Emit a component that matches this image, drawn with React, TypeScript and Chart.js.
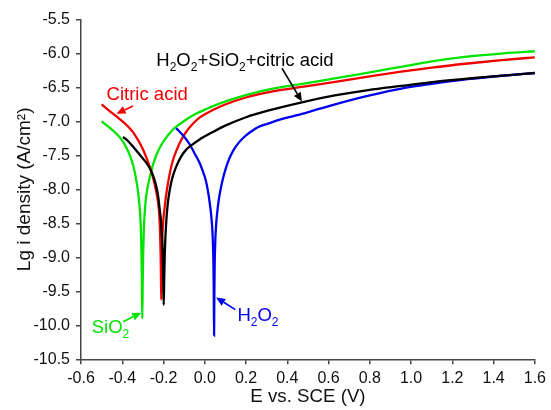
import React, { useEffect, useRef } from 'react';
import { Chart, registerables } from 'chart.js';

Chart.register(...registerables);

const FONT = '"Liberation Sans", Arial, Helvetica, sans-serif';
const GREEN = '#00e400';
const RED = '#f20000';
const BLUE = '#0000f0';
const BLACK = '#000000';

// ---- data (E vs. SCE in V, log current density) ----
const sio2E = [-0.500, -0.463, -0.433, -0.403, -0.383, -0.363, -0.348, -0.336, -0.327, -0.320, -0.314, -0.310, -0.307, -0.305, -0.303, -0.301, -0.299, -0.296, -0.292, -0.287, -0.279, -0.268, -0.253, -0.235, -0.213, -0.187, -0.163, -0.139, -0.093, -0.043, 0.007, 0.07, 0.15, 0.23, 0.33, 0.45, 0.63, 0.80, 0.95, 1.10, 1.27, 1.45, 1.60];
const sio2LogI = [-7.00, -7.09, -7.17, -7.27, -7.37, -7.50, -7.64, -7.80, -7.96, -8.13, -8.33, -8.56, -8.90, -9.30, -9.90, -9.40, -9.00, -8.65, -8.38, -8.18, -8.00, -7.84, -7.66, -7.50, -7.36, -7.24, -7.15, -7.08, -6.98, -6.89, -6.82, -6.74, -6.66, -6.59, -6.52, -6.46, -6.37, -6.28, -6.20, -6.12, -6.05, -6.00, -5.97];

const citricE = [-0.500, -0.461, -0.411, -0.371, -0.348, -0.321, -0.300, -0.281, -0.268, -0.255, -0.244, -0.235, -0.227, -0.221, -0.217, -0.214, -0.2125, -0.211, -0.2095, -0.208, -0.205, -0.201, -0.195, -0.188, -0.179, -0.168, -0.155, -0.136, -0.115, -0.089, -0.059, -0.031, 0.005, 0.049, 0.102, 0.20, 0.33, 0.48, 0.632, 0.80, 0.952, 1.10, 1.274, 1.44, 1.60];
const citricLogI = [-6.75, -6.85, -6.97, -7.08, -7.16, -7.29, -7.41, -7.55, -7.66, -7.78, -7.91, -8.04, -8.18, -8.36, -8.60, -8.95, -9.25, -9.62, -9.25, -8.95, -8.65, -8.45, -8.28, -8.10, -7.92, -7.74, -7.58, -7.42, -7.28, -7.15, -7.04, -6.96, -6.89, -6.82, -6.75, -6.65, -6.56, -6.49, -6.42, -6.34, -6.27, -6.21, -6.15, -6.10, -6.06];

const mixE = [-0.396, -0.369, -0.348, -0.324, -0.299, -0.279, -0.260, -0.246, -0.235, -0.226, -0.219, -0.213, -0.208, -0.204, -0.2015, -0.199, -0.1965, -0.194, -0.190, -0.185, -0.179, -0.171, -0.159, -0.139, -0.117, -0.091, -0.059, -0.027, 0.037, 0.102, 0.20, 0.31, 0.471, 0.63, 0.792, 0.95, 1.113, 1.25, 1.354, 1.48, 1.60];
const mixLogI = [-7.23, -7.30, -7.37, -7.46, -7.55, -7.63, -7.73, -7.84, -7.96, -8.10, -8.28, -8.45, -8.68, -8.95, -9.30, -9.70, -9.30, -8.95, -8.65, -8.40, -8.20, -8.03, -7.85, -7.67, -7.53, -7.42, -7.34, -7.27, -7.16, -7.06, -6.94, -6.84, -6.72, -6.62, -6.54, -6.48, -6.42, -6.38, -6.35, -6.32, -6.29];

const h2o2E = [-0.139, -0.105, -0.075, -0.050, -0.027, -0.010, 0.005, 0.015, 0.023, 0.030, 0.035, 0.039, 0.042, 0.0435, 0.045, 0.0465, 0.048, 0.051, 0.055, 0.061, 0.068, 0.078, 0.090, 0.103, 0.120, 0.140, 0.166, 0.195, 0.225, 0.262, 0.31, 0.36, 0.42, 0.471, 0.55, 0.632, 0.80, 0.952, 1.10, 1.274, 1.44, 1.60];
const h2o2LogI = [-7.10, -7.21, -7.33, -7.47, -7.60, -7.73, -7.87, -8.02, -8.18, -8.35, -8.52, -8.75, -9.10, -9.50, -10.15, -9.50, -9.10, -8.75, -8.52, -8.32, -8.15, -7.98, -7.82, -7.68, -7.54, -7.42, -7.31, -7.22, -7.15, -7.08, -7.03, -6.98, -6.93, -6.89, -6.82, -6.75, -6.62, -6.52, -6.45, -6.38, -6.33, -6.29];

const xTitle = 'E vs. SCE (V)';
const yTitle = 'Lg i density (A/cm²)';

// ---- annotations (label anchor and arrow in data units; "_" marks a subscript char) ----
type Ann = { text: string; x: number; y: number; color: string; from: [number, number]; to: [number, number] };
const annotations: Ann[] = [
  { text: 'H_2O_2+SiO_2+citric acid', x: -0.235, y: -6.18, color: BLACK, from: [0.374, -6.22], to: [0.471, -6.71] },
  { text: 'Citric acid', x: -0.476, y: -6.687, color: RED, from: [-0.348, -6.775], to: [-0.428, -6.89] },
  { text: 'SiO_2', x: -0.548, y: -10.12, color: GREEN, from: [-0.396, -9.947], to: [-0.308, -9.815] },
  { text: 'H_2O_2', x: 0.158, y: -9.937, color: BLUE, from: [0.148, -9.77], to: [0.055, -9.59] },
];

const toPts = (xs: number[], ys: number[]) => xs.map((x, i) => ({ x, y: ys[i] }));

const annPlugin = {
  id: 'annPlugin',
  afterDatasetsDraw(chart: any) {
    const { ctx, scales } = chart;
    const xs = scales.x;
    const ys = scales.y;
    const main = 18.5;
    const sub = 12;
    ctx.save();
    for (const a of annotations) {
      ctx.fillStyle = a.color;
      ctx.strokeStyle = a.color;
      let px = xs.getPixelForValue(a.x);
      const py = ys.getPixelForValue(a.y);
      ctx.textBaseline = 'alphabetic';
      ctx.textAlign = 'left';
      const t = a.text;
      let i = 0;
      while (i < t.length) {
        if (t[i] === '_') {
          const ch = t[i + 1];
          ctx.font = `${sub}px ${FONT}`;
          ctx.fillText(ch, px, py + 5);
          px += ctx.measureText(ch).width;
          i += 2;
        } else {
          let j = i;
          while (j < t.length && t[j] !== '_') j++;
          const run = t.slice(i, j);
          ctx.font = `${main}px ${FONT}`;
          ctx.fillText(run, px, py);
          px += ctx.measureText(run).width;
          i = j;
        }
      }
      const x1 = xs.getPixelForValue(a.from[0]);
      const y1 = ys.getPixelForValue(a.from[1]);
      const x2 = xs.getPixelForValue(a.to[0]);
      const y2 = ys.getPixelForValue(a.to[1]);
      const ang = Math.atan2(y2 - y1, x2 - x1);
      const hl = 9;
      const hw = 4;
      const bx = x2 - hl * Math.cos(ang);
      const by = y2 - hl * Math.sin(ang);
      ctx.lineWidth = 1.6;
      ctx.beginPath();
      ctx.moveTo(x1, y1);
      ctx.lineTo(bx, by);
      ctx.stroke();
      ctx.beginPath();
      ctx.moveTo(x2, y2);
      ctx.lineTo(bx + hw * Math.sin(ang), by - hw * Math.cos(ang));
      ctx.lineTo(bx - hw * Math.sin(ang), by + hw * Math.cos(ang));
      ctx.closePath();
      ctx.fill();
    }
    ctx.restore();
  },
};

const fmt = (v: any) => {
  const n = Number(v);
  return (Math.abs(n) < 1e-9 ? 0 : n).toFixed(1);
};

export default function App() {
  const ref = useRef<HTMLCanvasElement | null>(null);
  useEffect(() => {
    if (!ref.current) return;
    const common = { pointRadius: 0, borderWidth: 2.3, showLine: true, fill: false, cubicInterpolationMode: 'monotone' as const };
    const chart = new Chart(ref.current, {
      type: 'scatter',
      data: {
        datasets: [
          { label: 'H2O2+SiO2+citric acid', data: toPts(mixE, mixLogI), borderColor: BLACK, backgroundColor: BLACK, ...common },
          { label: 'H2O2', data: toPts(h2o2E, h2o2LogI), borderColor: BLUE, backgroundColor: BLUE, ...common },
          { label: 'Citric acid', data: toPts(citricE, citricLogI), borderColor: RED, backgroundColor: RED, ...common },
          { label: 'SiO2', data: toPts(sio2E, sio2LogI), borderColor: GREEN, backgroundColor: GREEN, ...common },
        ],
      },
      options: {
        animation: false,
        responsive: false,
        events: [],
        layout: { padding: { top: 19.3, right: 13.5, left: 0, bottom: 0 } },
        plugins: { legend: { display: false }, tooltip: { enabled: false } },
        scales: {
          x: {
            type: 'linear',
            min: -0.6,
            max: 1.6,
            afterFit: (s: any) => { s.height = 50.7; },
            ticks: { stepSize: 0.2, callback: fmt, color: '#111', font: { family: FONT, size: 16 }, padding: 5, maxRotation: 0, autoSkip: false },
            grid: { drawOnChartArea: false, drawTicks: true, tickLength: 5, color: '#444', lineWidth: 1.5 },
            border: { display: true, color: '#444', width: 1.5 },
            title: { display: true, text: xTitle, color: '#111', font: { family: FONT, size: 18.7 }, padding: { top: 0, bottom: 2 } },
          },
          y: {
            type: 'linear',
            min: -10.5,
            max: -5.5,
            afterFit: (s: any) => { s.width = 81; },
            ticks: { stepSize: 0.5, callback: fmt, color: '#111', font: { family: FONT, size: 16 }, padding: 6, autoSkip: false },
            grid: { drawOnChartArea: false, drawTicks: true, tickLength: 5, color: '#444', lineWidth: 1.5 },
            border: { display: true, color: '#444', width: 1.5 },
            title: { display: true, text: yTitle, color: '#111', font: { family: FONT, size: 19 }, padding: { top: 13, bottom: 0 } },
          },
        },
      },
      plugins: [annPlugin],
    });
    return () => chart.destroy();
  }, []);
  return (
    <div style={{ position: 'fixed', left: 0, top: 0, width: 551, height: 410, background: '#fff' }}>
      <canvas ref={ref} width={551} height={410} style={{ display: 'block' }} />
    </div>
  );
}
